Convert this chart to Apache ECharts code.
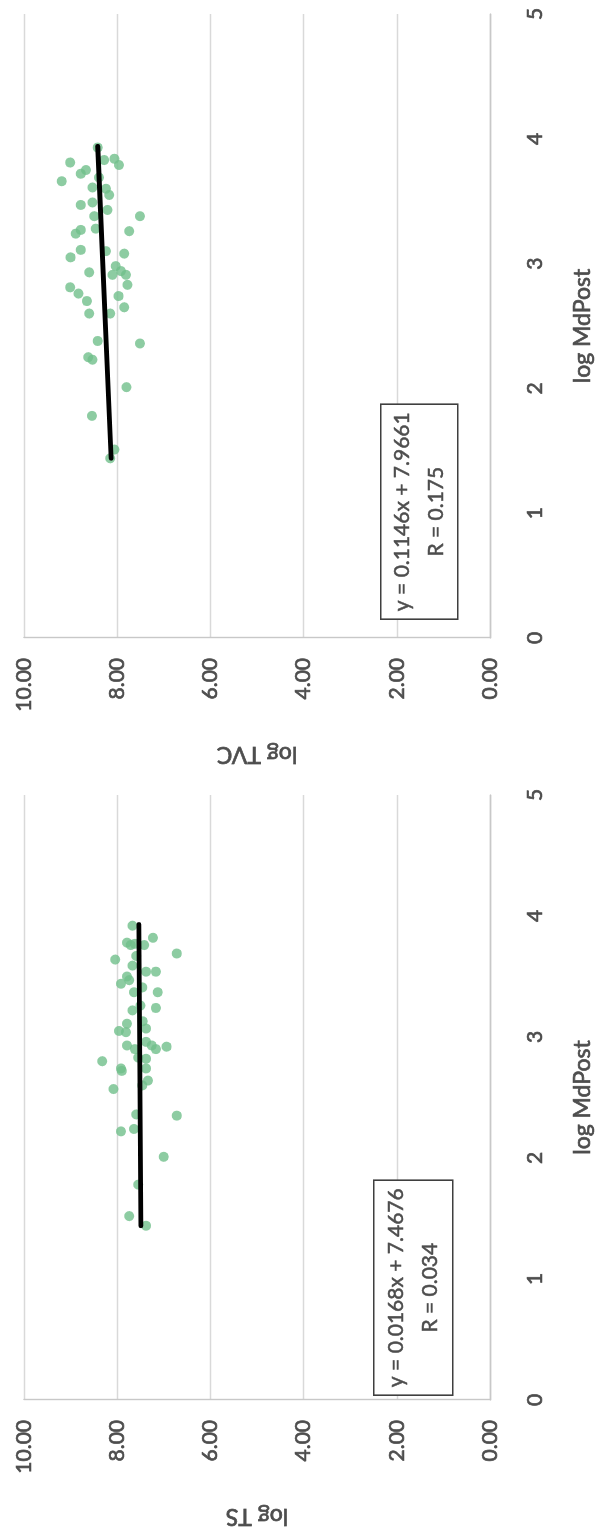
<!DOCTYPE html>
<html>
<head>
<meta charset="utf-8">
<script src="https://cdn.jsdelivr.net/npm/echarts@6/dist/echarts.min.js"></script>
<style>
  html, body { margin: 0; padding: 0; background: #ffffff; overflow: hidden; }
  /* The sheet is laid out landscape and turned a quarter turn counter-clockwise */
  #sheet {
    position: absolute; left: 0; top: 0;
    width: 1537px; height: 608px;
    transform-origin: 0 0;
    transform: translate(0, 1537px) rotate(-90deg);
  }
</style>
</head>
<body>
<div id="sheet"></div>
<script>
// ---- data ----
const xTicks = [0, 1, 2, 3, 4, 5];
const yTicks = [0, 2, 4, 6, 8, 10];

// [log MdPost, log TS]
const tsPoints = [
  [3.92, 7.67], [3.82, 7.23], [3.78, 7.79], [3.76, 7.71], [3.77, 7.62], [3.76, 7.42],
  [3.69, 6.72], [3.64, 8.04], [3.67, 7.59], [3.59, 7.67], [3.54, 7.17], [3.54, 7.38],
  [3.50, 7.79], [3.47, 7.74], [3.44, 7.92], [3.41, 7.46], [3.37, 7.64], [3.37, 7.13],
  [3.24, 7.17], [3.22, 7.67], [3.26, 7.50], [3.13, 7.45], [3.11, 7.79], [3.05, 7.96],
  [3.04, 7.81], [3.07, 7.38], [2.96, 7.38], [2.93, 7.79], [2.90, 7.62], [2.93, 7.26],
  [2.90, 7.17], [2.92, 6.94], [2.83, 7.55], [2.80, 8.32], [2.74, 7.92], [2.72, 7.90],
  [2.82, 7.38], [2.74, 7.38], [2.57, 8.08], [2.64, 7.34], [2.60, 7.46], [2.36, 7.59],
  [2.35, 6.72], [2.22, 7.92], [2.24, 7.64], [2.01, 7.00], [1.78, 7.55], [1.52, 7.74],
  [1.44, 7.38]
];

// [log MdPost, log TVC]
const tvcPoints = [
  [3.93, 8.42], [3.81, 9.01], [3.66, 9.19], [3.75, 8.67], [3.72, 8.78], [3.83, 8.28],
  [3.84, 8.06], [3.79, 7.96], [3.69, 8.39], [3.61, 8.53], [3.60, 8.24], [3.55, 8.17],
  [3.47, 8.78], [3.49, 8.53], [3.43, 8.21], [3.38, 8.49], [3.38, 7.51], [3.24, 8.89],
  [3.27, 8.78], [3.28, 8.46], [3.26, 7.74], [3.05, 9.00], [3.11, 8.78], [3.10, 8.24],
  [3.08, 7.85], [2.93, 8.60], [2.98, 8.03], [2.94, 7.92], [2.91, 7.81], [2.91, 8.10],
  [2.83, 7.78], [2.81, 9.01], [2.76, 8.83], [2.70, 8.65], [2.74, 7.97], [2.65, 7.85],
  [2.60, 8.60], [2.60, 8.15], [2.38, 8.42], [2.36, 7.51], [2.25, 8.62], [2.23, 8.53],
  [2.01, 7.80], [1.78, 8.54], [1.51, 8.06], [1.44, 8.15]
];

// linear fits: [slope, intercept], x range of the fitted line, R
const tsFit = [0.0168, 7.4676];
const tsFitRange = [1.44, 3.93];
const tsR = '0.034';
const tvcFit = [0.1146, 7.9661];
const tvcFitRange = [1.44, 3.94];
const tvcR = '0.175';

// ---- helpers ----
const FONT = 'Lato, "Open Sans", sans-serif';
const TEXT = '#4d4d4d';
const GRID = '#d9d9d9';
const DOT = '#70bf8b';

// slightly heavier strokes for all text
function txt(size) {
  return { fontFamily: FONT, fontSize: size, color: TEXT,
           textBorderColor: TEXT, textBorderWidth: 0.7 };
}

function fitLine(fit, range) {
  return range.map(x => [x, fit[0] * x + fit[1]]);
}
function equation(fit) {
  return 'y = ' + fit[0].toFixed(4) + 'x + ' + fit[1].toFixed(4);
}

function xAxisFor(i) {
  return {
    gridIndex: i, type: 'value',
    min: xTicks[0], max: xTicks[xTicks.length - 1], interval: xTicks[1] - xTicks[0],
    name: 'log MdPost', nameLocation: 'middle', nameGap: 81,
    nameTextStyle: txt(23),
    axisLine: { show: true, lineStyle: { color: '#c8c8c8', width: 1.4 } },
    axisTick: { show: false },
    axisLabel: Object.assign({ margin: 35 }, txt(21)),
    splitLine: { show: false }
  };
}
function yAxisFor(i, title) {
  return {
    gridIndex: i, type: 'value',
    min: yTicks[0], max: yTicks[yTicks.length - 1], interval: yTicks[1] - yTicks[0],
    name: title, nameLocation: 'middle', nameGap: 105,
    nameTextStyle: txt(23),
    axisLine: { show: true, lineStyle: { color: '#c8c8c8', width: 1.4 } },
    axisTick: { show: false },
    axisLabel: Object.assign({ margin: 20, formatter: v => v.toFixed(2) }, txt(21)),
    splitLine: { show: true, lineStyle: { color: GRID, width: 1.3 } }
  };
}
function scatter(i, data) {
  return {
    type: 'scatter', xAxisIndex: i, yAxisIndex: i, data: data,
    symbol: 'circle', symbolSize: 10,
    itemStyle: { color: DOT }, z: 2
  };
}
function trend(i, fit, range) {
  return {
    type: 'line', xAxisIndex: i, yAxisIndex: i, data: fitLine(fit, range),
    showSymbol: false, silent: true,
    lineStyle: { color: '#000000', width: 4.8, cap: 'round' }, z: 3
  };
}
function eqBox(left, top, width, height, fit, r) {
  return {
    type: 'group', left: left, top: top, z: 100,
    children: [
      { type: 'rect', z: 100, shape: { x: 0, y: 0, width: width, height: height },
        style: { fill: '#ffffff', stroke: '#3f3f3f', lineWidth: 1.6 } },
      { type: 'text', z: 101, x: width / 2, y: height / 2,
        style: { text: equation(fit) + '\nR = ' + r, fill: TEXT,
                 stroke: TEXT, lineWidth: 0.5,
                 font: '21px ' + FONT, align: 'center', verticalAlign: 'middle',
                 lineHeight: 34 } }
    ]
  };
}

const chart = echarts.init(document.getElementById('sheet'), null, { renderer: 'canvas' });
chart.setOption({
  animation: false,
  backgroundColor: '#ffffff',
  grid: [
    { left: 137, top: 24, width: 605, height: 466 },
    { left: 899, top: 24, width: 624, height: 466 }
  ],
  xAxis: [xAxisFor(0), xAxisFor(1)],
  yAxis: [yAxisFor(0, 'log TS'), yAxisFor(1, 'log TVC')],
  series: [
    scatter(0, tsPoints), trend(0, tsFit, tsFitRange),
    scatter(1, tvcPoints), trend(1, tvcFit, tvcFitRange)
  ],
  graphic: [
    eqBox(141, 373, 215, 79, tsFit, tsR),
    eqBox(917, 380, 215, 77, tvcFit, tvcR)
  ]
});
</script>
</body>
</html>
